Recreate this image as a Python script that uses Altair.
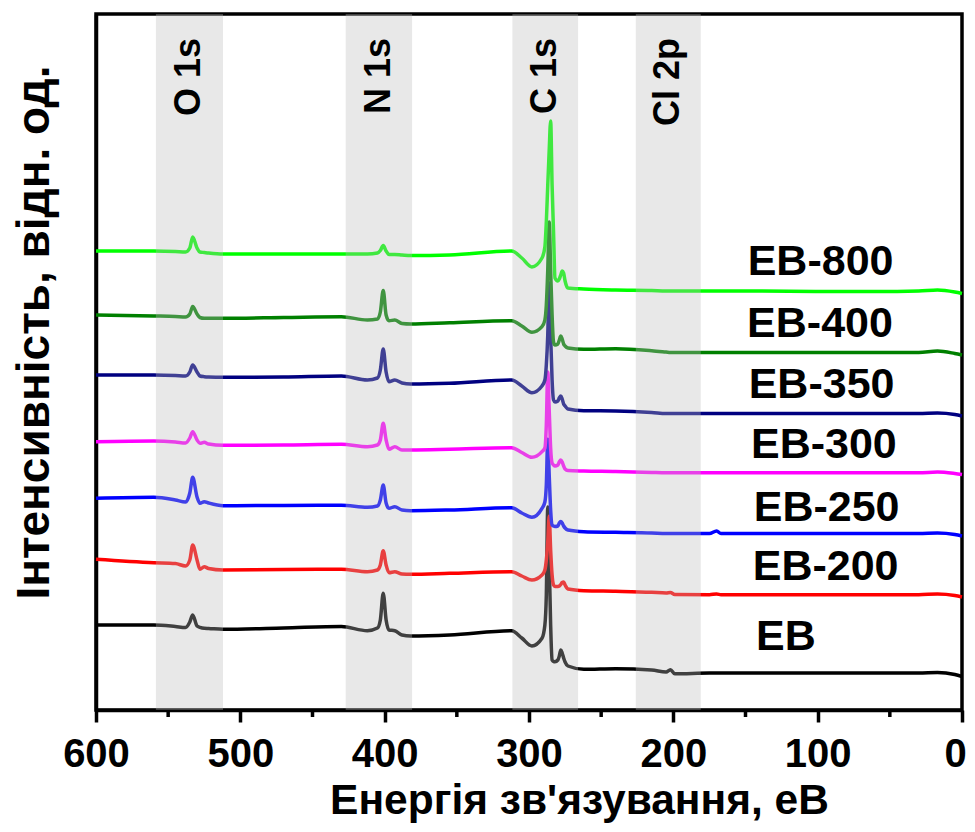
import altair as alt
import pandas as pd

# Binding energy grid (eV)
energy = [600, 560, 545, 538, 535, 533, 530, 528, 525, 522, 512, 470, 430, 412, 405, 403, 401, 399, 397, 393,
          388, 382, 355, 312, 305, 298, 291, 289, 288, 287, 286, 285, 284, 283, 282, 280, 279, 278, 277, 276,
          275, 273, 262, 240, 215, 205, 202, 199, 175, 170, 167, 140, 100, 60, 30, 17, 5, 0]

# Offset intensities (arb. units)
eb = [85, 85, 83.5, 82.5, 88, 95, 84, 82.7, 81.7, 81.5, 80.7, 82, 83.5, 79.3, 82, 90, 116.7, 90, 80, 79.3,
      75, 74, 75, 79.3, 72, 64, 71.7, 85, 115, 203, 150, 85, 50, 48.5, 48.3, 50, 54, 60, 57, 52,
      48, 44, 40.7, 41.3, 40, 38, 40.3, 36.2, 37, 37, 37, 37, 37, 37, 37, 37.6, 35.5, 33.5]
eb200 = [150.7, 147.3, 146.5, 144, 150, 165, 150, 140.7, 143.3, 141.5, 140, 140.5, 140.7, 138.3, 140, 145, 159.3, 145, 137.3, 138.3,
         136, 135.7, 136.7, 138.3, 134, 130, 135, 140, 150, 168, 194, 160, 135, 125, 123.5, 123.5, 124, 125.5, 127.5, 128,
         125, 121, 119.3, 118.7, 117.7, 117, 117.5, 115.5, 115.3, 116, 115.3, 115.3, 115.3, 115.3, 115.3, 116, 114.5, 113]
eb250 = [211.7, 212.7, 210, 208, 217, 232.7, 213, 206.7, 208.3, 207, 204.3, 204.5, 204.7, 202.7, 204, 210, 225, 207, 201.7, 203.3,
         200, 199.3, 200, 202.3, 197, 192.7, 201.7, 208, 225, 270.7, 235, 200, 185, 184, 183.5, 184, 187, 188.5, 187, 184,
         182, 180, 178.3, 177.7, 177, 176.4, 176.4, 176.4, 176.4, 179, 176.4, 176.4, 176.4, 176.4, 176.4, 177, 175.5, 174]
eb300 = [268.3, 269, 268, 267, 272, 278.3, 270, 266.7, 267.7, 266, 264.7, 265, 265.7, 263.3, 265, 270, 286.7, 270, 260.7, 263.3,
         260, 260, 260.7, 262.3, 257.5, 252.7, 258.3, 262, 285, 338, 300, 262, 247, 245, 244, 245, 248, 250, 248, 244,
         241, 239.5, 239, 238.5, 237.5, 237.2, 237.2, 237.2, 237.2, 237.2, 237.2, 237.2, 237.2, 237.2, 237.2, 238, 236.5, 235.5]
eb350 = [335, 335, 334.5, 334, 338, 345, 338, 334, 333.3, 333, 332.7, 333, 334, 330, 332, 340, 361, 338, 328.3, 330,
         327, 326, 326.7, 330, 324, 317.3, 324, 330, 345, 375, 427, 375, 330, 310, 308, 309, 312, 314, 311, 306,
         304, 301, 299.3, 299, 297.5, 296.5, 296.4, 296.4, 296.4, 296.4, 296.4, 296.4, 296.4, 296.4, 296.4, 297, 295.5, 294]
eb400 = [395, 394, 393.5, 393, 396, 403.5, 396, 392.5, 391.7, 391.7, 391.7, 392.5, 393.3, 390, 391, 398, 419.5, 395, 389.3, 390,
         386.5, 386, 387.3, 389.3, 384, 377.7, 383.3, 390, 405, 440, 488, 440, 395, 368, 365, 366, 370, 374, 371, 366,
         364, 362, 360.7, 361.3, 359.3, 358, 357.6, 357.6, 357.6, 357.6, 357.6, 357.6, 357.6, 357.6, 357.6, 359, 356.5, 355]
eb800 = [459, 459, 458.5, 458, 462, 473, 462, 458, 457.5, 457, 456, 456, 456, 456, 457, 459.5, 464.5, 459, 455.5, 455.5,
         455, 454.5, 455, 459, 452, 443, 452, 463, 488, 525, 560, 589, 525, 478, 432, 429, 431, 435, 439, 437,
         429, 422, 421, 420, 419.5, 419, 419, 419, 419, 419, 419, 419, 418.5, 418.5, 419, 420, 418, 416.5]

series_names = ["EB", "EB-200", "EB-250", "EB-300", "EB-350", "EB-400", "EB-800"]
series_colors = ["#000000", "#ff0000", "#0000ff", "#ff00ff", "#000080", "#008000", "#00ff00"]
series_values = [eb, eb200, eb250, eb300, eb350, eb400, eb800]

# Series labels (left edge in eV, baseline in arb. units)
label_x = [142.7, 145.0, 144.3, 146.2, 147.8, 148.9, 148.5]
label_y = [60.5, 129.8, 189, 251.8, 312, 373.4, 435.3]

# Core-level bands
band_names = ["O 1s", "N 1s", "C 1s", "Cl 2p"]
band_lo = [512, 381, 266, 181]
band_hi = [558.5, 427, 311.5, 226]
band_label_y = 672

major_ticks = [0, 100, 200, 300, 400, 500, 600]
minor_ticks = [50, 150, 250, 350, 450, 550]

FONT = "Liberation Sans, Arial, sans-serif"

xaxis = alt.Axis(values=major_ticks, title="Енергія зв'язування, еВ", format="d", grid=False,
                 labelFont=FONT, labelFontWeight="bold", labelFontSize=40, labelColor="black",
                 labelFlush=False, labelOverlap=False, labelPadding=12,
                 labelOffset={"condition": {"test": "datum.value === 0", "value": -7}, "value": 0},
                 tickSize=12, tickWidth=3.5, tickColor="black",
                 domainWidth=3.5, domainColor="black",
                 titleFont=FONT, titleFontWeight="bold", titleFontSize=42.5, titleColor="black",
                 titleBaseline="alphabetic", titleX=483, titleY=103)
yaxis = alt.Axis(title="Інтенсивність, відн. од.", labels=False, ticks=False, grid=False,
                 domainWidth=3.5, domainColor="black",
                 titleFont=FONT, titleFontWeight="bold", titleFontSize=46, titleColor="black",
                 titleBaseline="alphabetic", titleX=-48, titleY=318)

xscale = alt.Scale(domain=[0, 600], reverse=True, nice=False, zero=False)
yscale = alt.Scale(domain=[0, 696], nice=False, zero=False)

layers = []
for name, color, vals in zip(series_names, series_colors, series_values):
    df = pd.DataFrame({"energy": energy, "value": vals})
    layers.append(
        alt.Chart(df).mark_line(color=color, strokeWidth=3.5, interpolate="monotone").encode(
            x=alt.X("energy:Q", scale=xscale, axis=xaxis),
            y=alt.Y("value:Q", scale=yscale, axis=yaxis),
            order=alt.Order("energy:Q", sort="descending"),
        )
    )

bands = pd.DataFrame({"name": band_names, "lo": band_lo, "hi": band_hi,
                      "mid": [(a + b) / 2 for a, b in zip(band_lo, band_hi)],
                      "y": [band_label_y] * len(band_names)})

band_rect = alt.Chart(bands).mark_rect(color="#bcbcbc", opacity=0.34).encode(
    x=alt.X("lo:Q", scale=xscale, axis=xaxis), x2="hi:Q")

band_text = alt.Chart(bands).mark_text(angle=270, align="right", baseline="middle",
                                       font=FONT, fontWeight="bold", fontSize=36, color="black").encode(
    x=alt.X("mid:Q", scale=xscale, axis=xaxis),
    y=alt.Y("y:Q", scale=yscale, axis=yaxis),
    text="name:N")

labels = pd.DataFrame({"name": series_names, "x": label_x, "y": label_y})
label_text = alt.Chart(labels).mark_text(align="left", baseline="alphabetic",
                                         font=FONT, fontWeight="bold", fontSize=43, color="black").encode(
    x=alt.X("x:Q", scale=xscale, axis=xaxis),
    y=alt.Y("y:Q", scale=yscale, axis=yaxis),
    text="name:N")

minor = pd.DataFrame({"energy": minor_ticks})
minor_rule = alt.Chart(minor).mark_rule(color="black", strokeWidth=3.5).encode(
    x=alt.X("energy:Q", scale=xscale, axis=xaxis),
    y=alt.value(696), y2=alt.value(703))

chart = alt.layer(*layers, band_rect, band_text, label_text, minor_rule).properties(
    width=866, height=696,
    autosize=alt.AutoSizeParams(type="none"),
    padding={"left": 88, "top": 6, "right": 4, "bottom": 113},
).configure_view(stroke="black", strokeWidth=3.5)

chart.save("out.html", embed_options={"renderer": "svg", "actions": False})
